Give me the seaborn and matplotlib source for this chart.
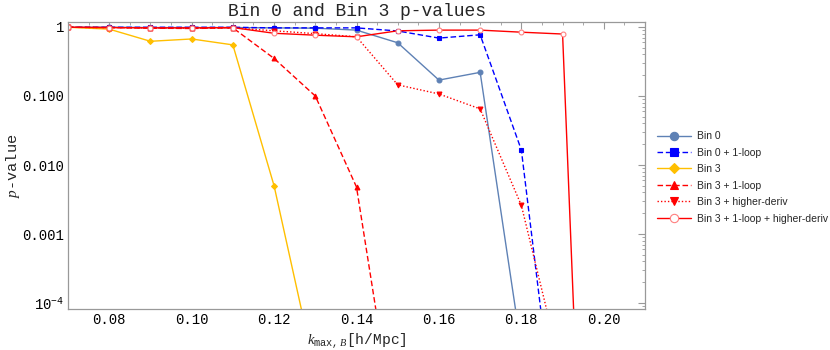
import numpy as np
import pandas as pd
import matplotlib
matplotlib.use("Agg")
import matplotlib.pyplot as plt
import seaborn as sns
from matplotlib.ticker import FixedLocator, LogLocator, MultipleLocator, NullFormatter

sns.set_style("white")
plt.rcParams["font.family"] = ["Liberation Mono", "DejaVu Sans Mono"]
plt.rcParams["mathtext.fontset"] = "custom"
plt.rcParams["mathtext.it"] = "Liberation Serif:italic"
plt.rcParams["mathtext.rm"] = "Liberation Mono"
plt.rcParams["mathtext.tt"] = "Liberation Mono"

k = [0.07, 0.08, 0.09, 0.10, 0.11, 0.12, 0.13, 0.14, 0.15, 0.16, 0.17, 0.18, 0.19, 0.20]

bin0 = [0.99, 0.99, 0.98, 0.98, 0.98, 0.97, 0.96, 0.90, 0.59, 0.17, 0.22, 2.2e-5]
bin0_1loop = [0.99, 0.99, 0.99, 0.99, 0.99, 0.97, 0.97, 0.97, 0.875, 0.69, 0.77, 0.0165, 2e-7]
bin3 = [0.99, 0.93, 0.62, 0.67, 0.55, 0.005, 1e-5]
bin3_1loop = [0.99, 0.98, 0.96, 0.95, 0.97, 0.35, 0.10, 0.0048, 8e-7]
bin3_hd = [0.99, 0.98, 0.97, 0.96, 0.97, 0.88, 0.80, 0.72, 0.145, 0.107, 0.065, 0.0026, 9e-6]
bin3_1loop_hd = [0.99, 0.98, 0.97, 0.97, 0.98, 0.81, 0.76, 0.72, 0.88, 0.90, 0.90, 0.84, 0.79, 1e-15]

labels = ["Bin 0", "Bin 0 + 1-loop", "Bin 3", "Bin 3 + 1-loop",
          "Bin 3 + higher-deriv", "Bin 3 + 1-loop + higher-deriv"]
series = [bin0, bin0_1loop, bin3, bin3_1loop, bin3_hd, bin3_1loop_hd]
colors = ["#5E81B5", "#0000FF", "#FFBF00", "#FF0000", "#FF0000", "#FF0000"]
styles = ["-", (0, (4, 2)), "-", (0, (4, 2)), (0, (1, 1.5)), "-"]
markers = ["o", "s", "D", "^", "v", "o"]

fig = plt.figure(figsize=(8.3, 3.5), dpi=100)
ax = fig.add_axes([68/830, 1-309/350, (645-68)/830, (309-22)/350])

handles = []
for lab, vals, c, ls, m in zip(labels, series, colors, styles, markers):
    df = pd.DataFrame({"k": k[:len(vals)], "p": vals})
    open_m = lab == "Bin 3 + 1-loop + higher-deriv"
    sns.lineplot(data=df, x="k", y="p", ax=ax, color=c, linestyle=ls, lw=1.0,
                 marker=m, markersize=3.5 if m != "D" else 3,
                 markerfacecolor="white" if open_m else c,
                 markeredgecolor="#FF8080" if open_m else c,
                 markeredgewidth=0.8, clip_on=True)
    h, = ax.plot([], [], color=c, linestyle=ls, lw=1.0, marker=m,
                 markersize=6 if m != "D" else 5,
                 markerfacecolor="white" if open_m else c,
                 markeredgecolor="#FF8080" if open_m else c, markeredgewidth=0.8)
    handles.append(h)

ax.set_yscale("log")
ax.set_xlim(0.07, 0.21)
ax.set_ylim(8.2e-5, 1.18)
ax.yaxis.set_major_locator(FixedLocator([1e-4, 1e-3, 1e-2, 1e-1, 1]))
ax.set_yticklabels([r"$10^{-4}$", "0.001", "0.010", "0.100", "1"])
ax.yaxis.set_minor_locator(LogLocator(base=10, subs=np.arange(2, 10)))
ax.yaxis.set_minor_formatter(NullFormatter())
ax.set_xticks([0.08, 0.10, 0.12, 0.14, 0.16, 0.18, 0.20])
ax.set_xticklabels(["0.08", "0.10", "0.12", "0.14", "0.16", "0.18", "0.20"])
ax.xaxis.set_minor_locator(MultipleLocator(0.005))

for s in ax.spines.values():
    s.set_color("#999999")
    s.set_linewidth(0.9)
ax.tick_params(which="both", direction="in", top=True, right=True, color="#999999",
               labelsize=10, labelcolor="black")
ax.tick_params(which="major", length=5, width=0.8)
ax.tick_params(which="minor", length=2.5, width=0.6)
ax.tick_params(axis="x", which="major", pad=3)
ax.tick_params(axis="y", which="major", pad=3)

ax.set_xlabel(r"$k_{\mathtt{max},B}$[h/Mpc]", fontsize=10.5)
ax.set_ylabel(r"$p$-value", fontsize=11)
ax.set_title("Bin 0 and Bin 3 p-values", fontsize=13, pad=4)
ax.xaxis.set_label_coords(0.5, -0.08)
ax.xaxis.label.set_va("top")
ax.yaxis.set_label_coords(-0.08, 0.5)

fig.legend(handles, labels, loc="upper left", bbox_to_anchor=(652/830, 1-126/350),
           frameon=False, prop={"family": "Liberation Sans", "size": 7.5},
           handlelength=3.2, handletextpad=0.6, labelspacing=0.62, borderpad=0)

fig.savefig("out.png", dpi=100)
